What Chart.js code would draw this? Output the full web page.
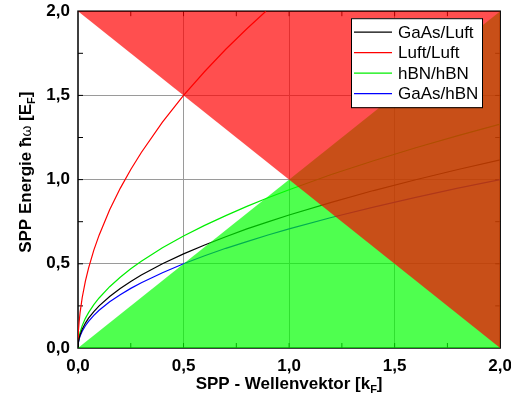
<!DOCTYPE html>
<html>
<head>
<meta charset="utf-8">
<script src="https://cdn.jsdelivr.net/npm/chart.js@4"></script>
<style>
  html, body { margin: 0; padding: 0; background: #fff; overflow: hidden; }
  #wrap { width: 511px; height: 402px; overflow: hidden; position: relative; }
  #grafico { position: absolute; left: 0; top: -7px; }
</style>
</head>
<body>
<div id="wrap"><canvas id="grafico" width="520" height="409"></canvas></div>
<script>
// Wellenvektor-Werte (k in k_F) fuer die drei flachen Kurven
const kWerte = [0, 0.002, 0.005, 0.01, 0.02, 0.035, 0.05, 0.075, 0.1, 0.15, 0.2, 0.25, 0.3, 0.4, 0.5, 0.6, 0.7, 0.8, 0.9, 1.0, 1.2, 1.4, 1.6, 1.8, 2.0]
const gaasLuft = [0, 0.035, 0.056, 0.079, 0.112, 0.148, 0.177, 0.216, 0.25, 0.306, 0.353, 0.395, 0.433, 0.5, 0.559, 0.612, 0.661, 0.707, 0.749, 0.79, 0.865, 0.935, 0.999, 1.06, 1.117]
const hbnHbn = [0, 0.042, 0.066, 0.094, 0.133, 0.176, 0.21, 0.257, 0.297, 0.364, 0.42, 0.47, 0.515, 0.595, 0.665, 0.728, 0.786, 0.841, 0.892, 0.94, 1.03, 1.112, 1.189, 1.261, 1.329]
const gaasHbn = [0, 0.032, 0.05, 0.071, 0.1, 0.132, 0.158, 0.194, 0.224, 0.274, 0.316, 0.354, 0.387, 0.447, 0.5, 0.548, 0.592, 0.632, 0.671, 0.707, 0.775, 0.837, 0.894, 0.949, 1.0]

// Luft/Luft steigt schnell, eigene k-Werte
const kLuft = [0, 0.001, 0.002, 0.005, 0.01, 0.02, 0.035, 0.05, 0.075, 0.1, 0.15, 0.2, 0.25, 0.3, 0.4, 0.5, 0.6, 0.7, 0.8, 0.89]
const luftLuft = [0, 0.067, 0.095, 0.15, 0.212, 0.3, 0.397, 0.474, 0.581, 0.67, 0.821, 0.948, 1.06, 1.161, 1.341, 1.5, 1.642, 1.774, 1.896, 2.0]

// Eckpunkte der farbigen Bereiche
const kante1 = [[0, 0], [2, 2]]   // gruen: unterhalb
const kante2 = [[0, 2], [2, 0]]   // rot: oberhalb

const kurvenNamen = ['GaAs/Luft', 'Luft/Luft', 'hBN/hBN', 'GaAs/hBN']
const kurvenFarben = ['#000000', '#ff0000', '#00ee00', '#0000ff']

const achsenTicks = [0, 0.5, 1, 1.5, 2]

const paare = (xs, ys) => xs.map((x, i) => ({ x: x, y: ys[i] }))
const punkte = arr => arr.map(p => ({ x: p[0], y: p[1] }))
const fmt = v => v.toFixed(1).replace('.', ',')
const istHaupt = v => achsenTicks.some(t => Math.abs(t - v) < 1e-6)

const SCHRIFT = '"Liberation Sans", Arial, Helvetica, sans-serif'

// Rahmen und Striche nach innen (unter den Flaechen)
const rahmenPlugin = {
  id: 'rahmen',
  beforeDatasetsDraw(chart) {
    const { ctx, chartArea: a, scales } = chart
    ctx.save()
    ctx.strokeStyle = '#000'
    ctx.lineWidth = 1
    for (let v = 0.25; v < 2; v += 0.25) {
      const px = scales.x.getPixelForValue(v)
      const py = scales.y.getPixelForValue(v)
      ctx.beginPath()
      ctx.moveTo(px, a.bottom); ctx.lineTo(px, a.bottom - 5)
      ctx.moveTo(px, a.top); ctx.lineTo(px, a.top + 5)
      ctx.moveTo(a.left, py); ctx.lineTo(a.left + 5, py)
      ctx.moveTo(a.right, py); ctx.lineTo(a.right - 5, py)
      ctx.stroke()
    }
    ctx.lineWidth = 1.5
    ctx.strokeRect(a.left, a.top, a.right - a.left, a.bottom - a.top)
    ctx.restore()
  }
}

// Legende im Diagramm
const legendePlugin = {
  id: 'legende',
  afterDatasetsDraw(chart) {
    const ctx = chart.ctx
    const x0 = 351, y0 = chart.chartArea.top + 7, w = 131, h = 89
    ctx.save()
    ctx.fillStyle = '#fff'
    ctx.fillRect(x0, y0, w, h)
    ctx.strokeStyle = '#000'
    ctx.lineWidth = 1
    ctx.strokeRect(x0 + 0.5, y0 + 0.5, w, h)
    ctx.font = '17px ' + SCHRIFT
    ctx.textBaseline = 'middle'
    kurvenNamen.forEach((name, i) => {
      const y = y0 + 14 + i * 20.5
      ctx.strokeStyle = kurvenFarben[i]
      ctx.lineWidth = 1.2
      ctx.beginPath()
      ctx.moveTo(x0 + 3, y); ctx.lineTo(x0 + 41, y)
      ctx.stroke()
      ctx.fillStyle = '#000'
      ctx.fillText(name, x0 + 47, y + 1)
    })
    ctx.restore()
  }
}

// Achsentitel mit Index
function teile(ctx, stuecke) {
  let breite = 0
  stuecke.forEach(s => { ctx.font = s.f; breite += ctx.measureText(s.t).width })
  return breite
}
function zeichne(ctx, stuecke, x, y) {
  stuecke.forEach(s => {
    ctx.font = s.f
    ctx.fillText(s.t, x, y + (s.dy || 0))
    x += ctx.measureText(s.t).width
  })
}
const titelPlugin = {
  id: 'titel',
  afterDraw(chart) {
    const { ctx, chartArea: a } = chart
    const fett = 'bold 17px ' + SCHRIFT
    const klein = 'bold 11px ' + SCHRIFT
    ctx.save()
    ctx.fillStyle = '#000'
    ctx.textBaseline = 'alphabetic'
    const xt = [{ t: 'SPP - Wellenvektor [k', f: fett }, { t: 'F', f: klein, dy: 4 }, { t: ']', f: fett }]
    const bx = teile(ctx, xt)
    zeichne(ctx, xt, (a.left + a.right) / 2 - bx / 2, a.bottom + 41)

    const yt = [{ t: 'SPP Energie \u0127', f: fett }, { t: '\u03c9', f: '14px ' + SCHRIFT },
      { t: ' [E', f: fett }, { t: 'F', f: klein, dy: 4 }, { t: ']', f: fett }]
    const by = teile(ctx, yt)
    ctx.translate(31, a.top + 161)
    ctx.rotate(-Math.PI / 2)
    zeichne(ctx, yt, -by / 2, 0)
    ctx.restore()
  }
}

const kurven = [gaasLuft, null, hbnHbn, gaasHbn].map((werte, i) => ({
  label: kurvenNamen[i],
  data: i === 1 ? paare(kLuft, luftLuft) : paare(kWerte, werte),
  borderColor: kurvenFarben[i],
  borderWidth: 1.2,
  pointRadius: 0,
  fill: false,
  tension: 0
}))

const achse = {
  type: 'linear',
  min: 0,
  max: 2,
  border: { display: false },
  grid: {
    drawTicks: false,
    lineWidth: 1,
    color: c => (c.tick && istHaupt(c.tick.value) && c.tick.value > 0 && c.tick.value < 2) ? '#9a9a9a' : 'rgba(0,0,0,0)'
  },
  ticks: {
    stepSize: 0.25,
    autoSkip: false,
    maxRotation: 0,
    color: '#000',
    font: { family: SCHRIFT, size: 17, weight: 'bold' },
    callback: v => istHaupt(v) ? fmt(v) : ''
  }
}

new Chart(document.getElementById('grafico'), {
  type: 'line',
  data: {
    datasets: [
      { label: 'rot', data: punkte(kante2), fill: 'end', backgroundColor: 'rgba(255,0,0,0.69)', borderWidth: 0, pointRadius: 0 },
      { label: 'gruen', data: punkte(kante1), fill: 'origin', backgroundColor: 'rgba(0,255,0,0.69)', borderWidth: 0, pointRadius: 0 },
      ...kurven
    ]
  },
  options: {
    responsive: false,
    animation: false,
    layout: { padding: { top: 2, right: 2, left: 0, bottom: 0 } },
    scales: {
      x: { ...achse, ticks: { ...achse.ticks, padding: 8 }, afterFit: s => { s.height = 54 } },
      y: { ...achse, ticks: { ...achse.ticks, padding: 8 }, afterFit: s => { s.width = 78 } }
    },
    plugins: {
      legend: { display: false },
      tooltip: { enabled: false }
    }
  },
  plugins: [rahmenPlugin, legendePlugin, titelPlugin]
})
</script>
</body>
</html>
